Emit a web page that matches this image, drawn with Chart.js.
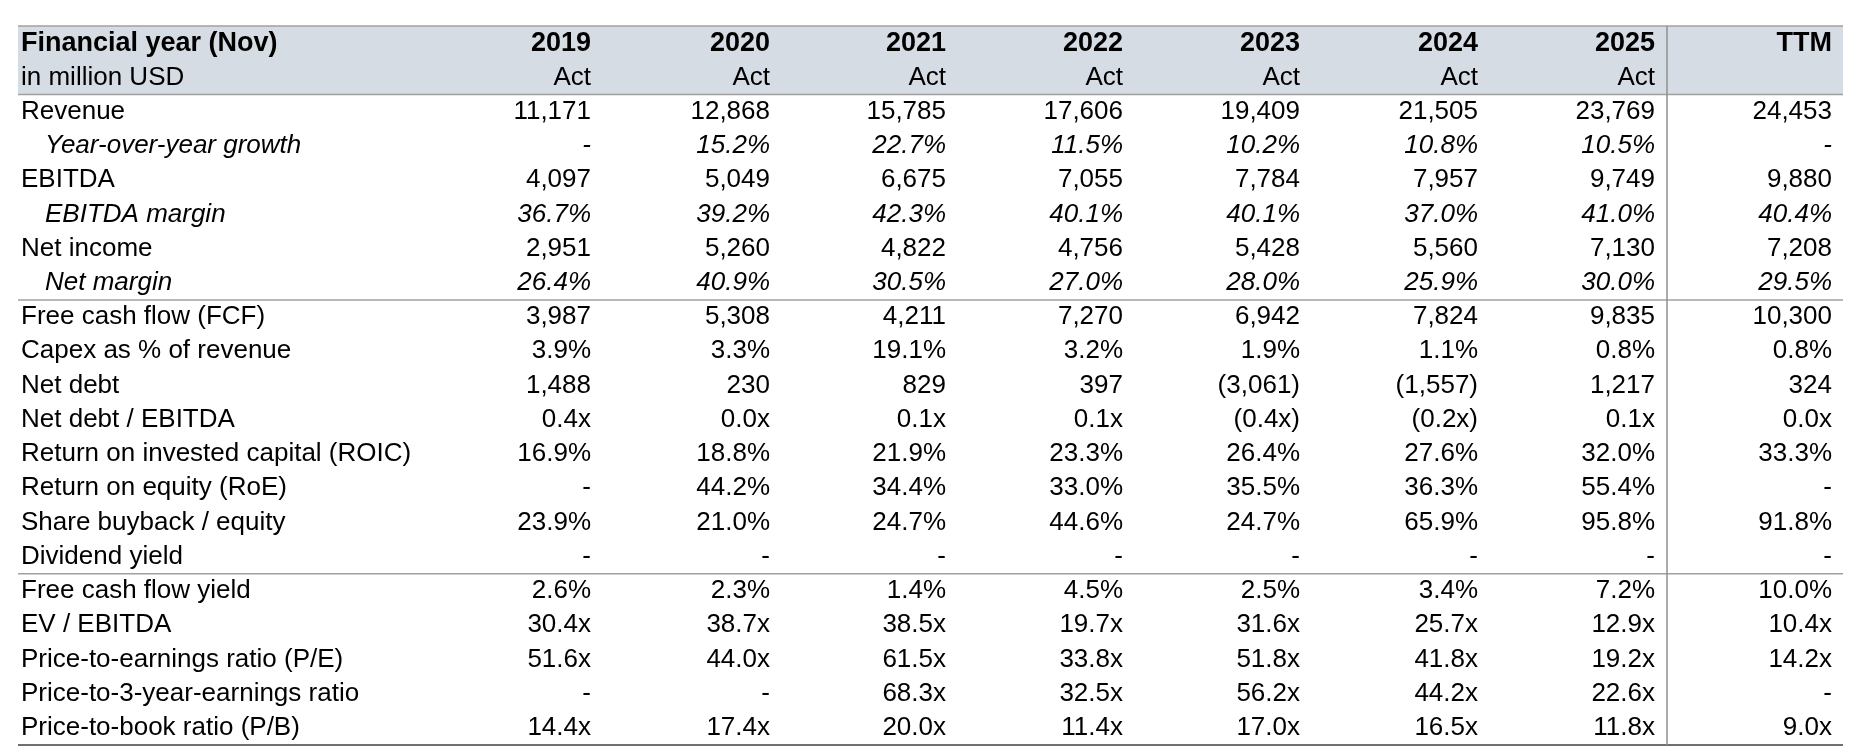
<!DOCTYPE html>
<html>
<head>
<meta charset="utf-8">
<script src="https://cdn.jsdelivr.net/npm/chart.js@4"></script>
<style>
  body { margin: 0; background: #fff; }
  canvas { display: block; }
</style>
</head>
<body>
<canvas id="tabela" width="1862" height="752"></canvas>
<script>
const anos = ["2019", "2020", "2021", "2022", "2023", "2024", "2025", "TTM"];
const subtitulos = ["Act", "Act", "Act", "Act", "Act", "Act", "Act", ""];

const revenue = [11171, 12868, 15785, 17606, 19409, 21505, 23769, 24453];
const revenueGrowth = [null, 15.2, 22.7, 11.5, 10.2, 10.8, 10.5, null];
const ebitda = [4097, 5049, 6675, 7055, 7784, 7957, 9749, 9880];
const ebitdaMargin = [36.7, 39.2, 42.3, 40.1, 40.1, 37.0, 41.0, 40.4];
const netIncome = [2951, 5260, 4822, 4756, 5428, 5560, 7130, 7208];
const netMargin = [26.4, 40.9, 30.5, 27.0, 28.0, 25.9, 30.0, 29.5];
const fcf = [3987, 5308, 4211, 7270, 6942, 7824, 9835, 10300];
const capexPct = [3.9, 3.3, 19.1, 3.2, 1.9, 1.1, 0.8, 0.8];
const netDebt = [1488, 230, 829, 397, -3061, -1557, 1217, 324];
const netDebtEbitda = [0.4, 0.0, 0.1, 0.1, -0.4, -0.2, 0.1, 0.0];
const roic = [16.9, 18.8, 21.9, 23.3, 26.4, 27.6, 32.0, 33.3];
const roe = [null, 44.2, 34.4, 33.0, 35.5, 36.3, 55.4, null];
const buyback = [23.9, 21.0, 24.7, 44.6, 24.7, 65.9, 95.8, 91.8];
const dividendYield = [null, null, null, null, null, null, null, null];
const fcfYield = [2.6, 2.3, 1.4, 4.5, 2.5, 3.4, 7.2, 10.0];
const evEbitda = [30.4, 38.7, 38.5, 19.7, 31.6, 25.7, 12.9, 10.4];
const pe = [51.6, 44.0, 61.5, 33.8, 51.8, 41.8, 19.2, 14.2];
const p3e = [null, null, 68.3, 32.5, 56.2, 44.2, 22.6, null];
const pb = [14.4, 17.4, 20.0, 11.4, 17.0, 16.5, 11.8, 9.0];

const num = v => v == null ? "-" : (v < 0 ? "(" + Math.abs(v).toLocaleString("en-US") + ")" : v.toLocaleString("en-US"));
const pct = v => v == null ? "-" : v.toFixed(1) + "%";
const mult = v => v == null ? "-" : (v < 0 ? "(" + Math.abs(v).toFixed(1) + "x)" : v.toFixed(1) + "x");

// [rótulo, valores, formato, itálico]
const linhas = [
  ["Revenue", revenue, num, false],
  ["Year-over-year growth", revenueGrowth, pct, true],
  ["EBITDA", ebitda, num, false],
  ["EBITDA margin", ebitdaMargin, pct, true],
  ["Net income", netIncome, num, false],
  ["Net margin", netMargin, pct, true],
  ["Free cash flow (FCF)", fcf, num, false],
  ["Capex as % of revenue", capexPct, pct, false],
  ["Net debt", netDebt, num, false],
  ["Net debt / EBITDA", netDebtEbitda, mult, false],
  ["Return on invested capital (ROIC)", roic, pct, false],
  ["Return on equity (RoE)", roe, pct, false],
  ["Share buyback / equity", buyback, pct, false],
  ["Dividend yield", dividendYield, pct, false],
  ["Free cash flow yield", fcfYield, pct, false],
  ["EV / EBITDA", evEbitda, mult, false],
  ["Price-to-earnings ratio (P/E)", pe, mult, false],
  ["Price-to-3-year-earnings ratio", p3e, mult, false],
  ["Price-to-book ratio (P/B)", pb, mult, false]
];

const rotulosLinhas = ["h1", "h2"].concat(linhas.map(l => l[0]));

// bordas direitas das colunas (px)
const colDir = [591, 770, 946, 1123, 1300, 1478, 1655, 1832];
const fonte = '"Liberation Sans", Arial, sans-serif';

const desenhaTabela = {
  id: "desenhaTabela",
  afterDraw(chart) {
    const ctx = chart.ctx;
    const x = chart.scales.x;
    const y = chart.scales.y;
    const esq = x.getPixelForValue(18);
    const dir = x.getPixelForValue(1843);
    const meio = (y.getPixelForValue(1) - y.getPixelForValue(0)) / 2;
    const topo = y.getPixelForValue(0) - meio;
    const fim = y.getPixelForValue(rotulosLinhas.length - 1) + meio;
    const sep = i => y.getPixelForValue(i) + meio;

    ctx.save();
    ctx.fillStyle = "#d6dce4";
    ctx.fillRect(esq, topo, dir - esq, sep(1) - topo);

    ctx.strokeStyle = "#a0a0a0";
    ctx.lineWidth = 1.5;
    [topo, sep(1), sep(7), sep(15)].forEach(yy => {
      ctx.beginPath(); ctx.moveTo(esq, yy); ctx.lineTo(dir, yy); ctx.stroke();
    });
    ctx.strokeStyle = "#707070";
    ctx.lineWidth = 2;
    ctx.beginPath(); ctx.moveTo(esq, fim); ctx.lineTo(dir, fim); ctx.stroke();
    ctx.strokeStyle = "#909090";
    ctx.lineWidth = 1.5;
    ctx.beginPath(); ctx.moveTo(1667, topo); ctx.lineTo(1667, fim); ctx.stroke();

    ctx.fillStyle = "#000";
    ctx.textBaseline = "middle";

    ctx.font = "bold 27px " + fonte;
    ctx.textAlign = "left";
    ctx.fillText("Financial year (Nov)", 21, y.getPixelForValue(0));
    ctx.textAlign = "right";
    anos.forEach((a, i) => ctx.fillText(a, colDir[i], y.getPixelForValue(0)));

    ctx.font = "26px " + fonte;
    ctx.textAlign = "left";
    ctx.fillText("in million USD", 21, y.getPixelForValue(1));
    ctx.textAlign = "right";
    subtitulos.forEach((s, i) => ctx.fillText(s, colDir[i], y.getPixelForValue(1)));

    linhas.forEach((l, r) => {
      const yy = y.getPixelForValue(r + 2);
      ctx.font = (l[3] ? "italic " : "") + "26px " + fonte;
      ctx.textAlign = "left";
      ctx.fillText(l[0], l[3] ? 45 : 21, yy);
      ctx.textAlign = "right";
      l[1].forEach((v, i) => ctx.fillText(l[2](v), colDir[i], yy));
    });
    ctx.restore();
  }
};

new Chart(document.getElementById("tabela"), {
  type: "scatter",
  data: { labels: rotulosLinhas, datasets: [{ data: [], showLine: false }] },
  plugins: [desenhaTabela],
  options: {
    responsive: false,
    animation: false,
    devicePixelRatio: 1,
    layout: { padding: { left: 0, right: 0, top: 26, bottom: 7 } },
    plugins: { legend: { display: false }, tooltip: { enabled: false } },
    scales: {
      x: { type: "linear", min: 0, max: 1862, display: false },
      y: { type: "category", labels: rotulosLinhas, offset: true, display: false }
    }
  }
});
</script>
</body>
</html>
